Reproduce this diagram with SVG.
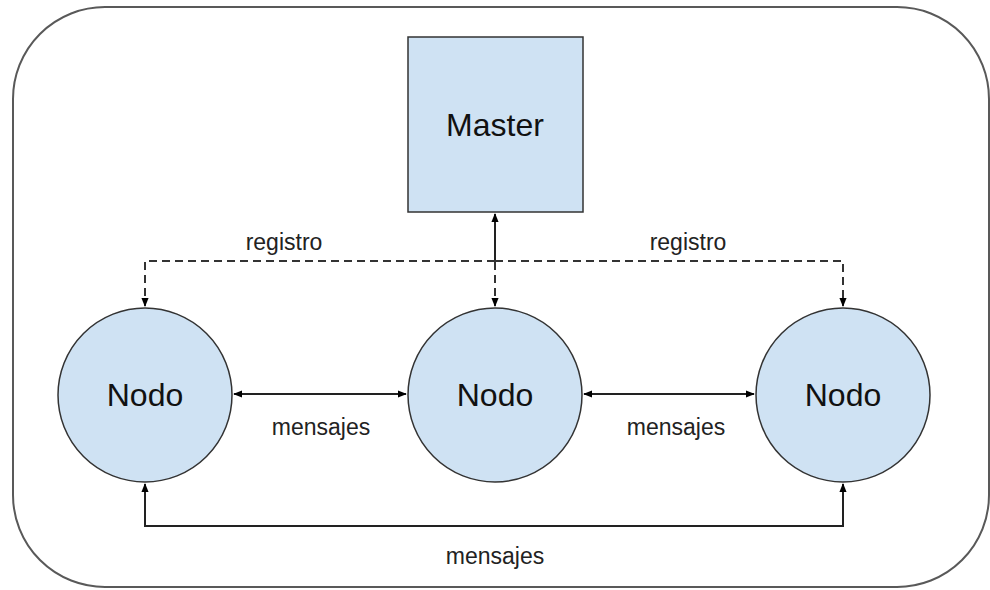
<svg xmlns="http://www.w3.org/2000/svg" width="990" height="590" viewBox="0 0 990 590">
<defs>
<marker id="ah" viewBox="0 0 10 10" refX="9" refY="5" markerWidth="9" markerHeight="9" markerUnits="userSpaceOnUse" orient="auto-start-reverse">
<path d="M0,1 L10,5 L0,9 Z" fill="#000"/>
</marker>
<style>
.frame{fill:none;stroke:#595959;stroke-width:2}
.node{fill:#cfe2f3;stroke:#333;stroke-width:1.5}
.big{font-family:"Liberation Sans",Arial,sans-serif;font-size:32px;fill:#111;text-anchor:middle;dominant-baseline:central}
.lbl{font-family:"Liberation Sans",Arial,sans-serif;font-size:23px;fill:#222;text-anchor:middle;dominant-baseline:central}
.c{fill:none;stroke:#222;stroke-width:2}
.d{fill:none;stroke:#333;stroke-width:2;stroke-dasharray:8,5}
</style>
</defs>
<rect class="frame" x="13" y="7" width="976" height="580" rx="92" ry="92"/>
<g id="connectors">
<path class="c" d="M495,262 L495,214" marker-end="url(#ah)"/>
<path class="d" d="M495,262 L495,306" marker-end="url(#ah)"/>
<path class="d" d="M495,261 L145,261 L145,306" marker-end="url(#ah)"/>
<path class="d" d="M495,261 L843,261 L843,306" marker-end="url(#ah)"/>
<path class="c" d="M234,394 L406,394" marker-start="url(#ah)" marker-end="url(#ah)"/>
<path class="c" d="M584,394 L754,394" marker-start="url(#ah)" marker-end="url(#ah)"/>
<path class="c" d="M145,484 L145,526 L843,526 L843,484" marker-start="url(#ah)" marker-end="url(#ah)"/>
<text class="lbl" x="284" y="242">registro</text>
<text class="lbl" x="688" y="242">registro</text>
<text class="lbl" x="321" y="427">mensajes</text>
<text class="lbl" x="676" y="427">mensajes</text>
<text class="lbl" x="495" y="556">mensajes</text>
</g>
<g id="master">
<rect class="node" x="408" y="37" width="175" height="175"/>
<text class="big" x="495" y="125">Master</text>
</g>
<g id="nodo1">
<circle class="node" cx="145" cy="395" r="87"/>
<text class="big" x="145" y="395">Nodo</text>
</g>
<g id="nodo2">
<circle class="node" cx="495" cy="395" r="87"/>
<text class="big" x="495" y="395">Nodo</text>
</g>
<g id="nodo3">
<circle class="node" cx="843" cy="395" r="87"/>
<text class="big" x="843" y="395">Nodo</text>
</g>
</svg>
